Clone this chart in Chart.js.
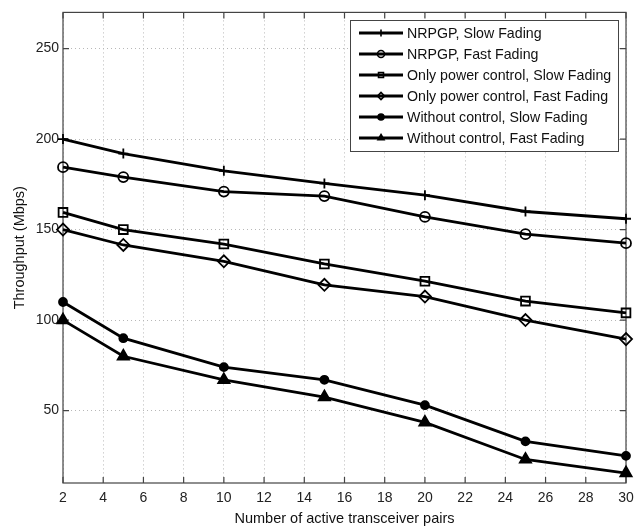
<!DOCTYPE html>
<html lang="en">
<head>
  <meta charset="UTF-8">
  <title>Throughput vs transceiver pairs</title>
  <style>
    body {
      margin: 0;
      padding: 0;
      background: #ffffff;
    }
    canvas {
      display: block;
    }
  </style>
  <script src="https://cdn.jsdelivr.net/npm/chart.js"></script>
</head>
<body>
  <canvas id="throughputChart" width="644" height="529"></canvas>
  <script>
    // number of active transceiver pairs
    const pairs = [2, 5, 10, 15, 20, 25, 30];

    // throughput in Mbps for each scheme
    const nrpgpSlow = [200, 192, 182.5, 175.5, 169, 160, 156];
    const nrpgpFast = [184.5, 179, 171, 168.5, 157, 147.5, 142.5];
    const powerSlow = [159.5, 150, 142, 131, 121.5, 110.5, 104];
    const powerFast = [150, 141.5, 132.5, 119.5, 113, 100, 89.5];
    const noCtrlSlow = [110, 90, 74, 67, 53, 33, 25];
    const noCtrlFast = [100, 80, 67, 57.5, 43.5, 23, 15.5];

    const xTicks = [2, 4, 6, 8, 10, 12, 14, 16, 18, 20, 22, 24, 26, 28, 30];
    const yTicks = [50, 100, 150, 200, 250];

    const FONT = '"Liberation Sans", Arial, sans-serif';

    function series(label, values, style, radius, fill) {
      return {
        label: label,
        data: pairs.map((p, i) => ({ x: p, y: values[i] })),
        borderColor: '#000',
        borderWidth: 2.8,
        pointStyle: style,
        pointRadius: radius,
        pointBorderWidth: 1.8,
        pointBorderColor: '#000',
        pointBackgroundColor: fill,
        legendRadius: style === 'circle' && fill === '#000' ? 3 : 3.5,
        clip: false,
        tension: 0
      };
    }

    const datasets = [
      series('NRPGP, Slow Fading', nrpgpSlow, 'cross', 5, 'transparent'),
      series('NRPGP, Fast Fading', nrpgpFast, 'circle', 5, 'transparent'),
      series('Only power control, Slow Fading', powerSlow, 'rect', 6.2, 'transparent'),
      series('Only power control, Fast Fading', powerFast, 'rectRot', 6, 'transparent'),
      series('Without control, Slow Fading', noCtrlSlow, 'circle', 4, '#000'),
      series('Without control, Fast Fading', noCtrlFast, 'triangle', 6.5, '#000')
    ];

    // box around the plot with inward tick marks on all four sides
    const frame = {
      id: 'frame',
      beforeDatasetsDraw(chart) {
        const { ctx, chartArea: a, scales: { x, y } } = chart;
        const len = 6;
        ctx.save();
        ctx.strokeStyle = '#444';
        ctx.lineWidth = 1.2;
        ctx.strokeRect(a.left, a.top, a.right - a.left, a.bottom - a.top);
        ctx.beginPath();
        xTicks.forEach(v => {
          const px = x.getPixelForValue(v);
          ctx.moveTo(px, a.bottom); ctx.lineTo(px, a.bottom - len);
          ctx.moveTo(px, a.top); ctx.lineTo(px, a.top + len);
        });
        yTicks.forEach(v => {
          const py = y.getPixelForValue(v);
          ctx.moveTo(a.left, py); ctx.lineTo(a.left + len, py);
          ctx.moveTo(a.right, py); ctx.lineTo(a.right - len, py);
        });
        ctx.stroke();
        ctx.restore();
      }
    };

    // legend box in the upper right: line segment + marker + text
    const boxLegend = {
      id: 'boxLegend',
      afterDraw(chart) {
        const ctx = chart.ctx;
        const left = 350, top = 20, width = 268, height = 131;
        const rowH = 21;
        ctx.save();
        ctx.fillStyle = '#fff';
        ctx.fillRect(left, top, width, height);
        ctx.strokeStyle = '#444';
        ctx.lineWidth = 1;
        ctx.strokeRect(left + 0.5, top + 0.5, width, height);
        ctx.font = '14.2px ' + FONT;
        ctx.textBaseline = 'middle';
        chart.data.datasets.forEach((ds, i) => {
          const cy = top + 13 + i * rowH;
          ctx.strokeStyle = '#000';
          ctx.lineWidth = 2.8;
          ctx.beginPath();
          ctx.moveTo(359, cy);
          ctx.lineTo(403, cy);
          ctx.stroke();
          ctx.lineWidth = 1.6;
          ctx.fillStyle = ds.pointBackgroundColor;
          Chart.helpers.drawPoint(ctx, {
            pointStyle: ds.pointStyle,
            radius: ds.legendRadius,
            rotation: 0,
            borderWidth: 1.6
          }, 381, cy);
          ctx.fillStyle = '#111';
          ctx.fillText(ds.label, 407, cy + 1);
        });
        ctx.restore();
      }
    };

    new Chart(document.getElementById('throughputChart'), {
      type: 'line',
      data: { datasets: datasets },
      options: {
        responsive: false,
        animation: false,
        layout: { padding: { left: 0, top: 10, right: 18, bottom: 0 } },
        plugins: {
          legend: { display: false },
          tooltip: { enabled: false }
        },
        scales: {
          x: {
            type: 'linear',
            min: 2,
            max: 30,
            afterFit: s => { s.height = 46; },
            afterBuildTicks: s => { s.ticks = xTicks.map(v => ({ value: v })); },
            ticks: {
              color: '#222',
              font: { family: FONT, size: 14 },
              padding: 7,
              maxRotation: 0
            },
            grid: { color: '#b8b8b8', lineWidth: 1, drawTicks: false },
            border: { display: false, dash: [1, 3] },
            title: {
              display: true,
              text: 'Number of active transceiver pairs',
              color: '#111',
              font: { family: FONT, size: 14.5 },
              padding: { top: 0, bottom: 1 }
            }
          },
          y: {
            min: 10,
            max: 270,
            afterFit: s => { s.width = 63; },
            afterBuildTicks: s => { s.ticks = yTicks.map(v => ({ value: v })); },
            ticks: {
              color: '#222',
              font: { family: FONT, size: 14 },
              padding: 4
            },
            grid: { color: '#b8b8b8', lineWidth: 1, drawTicks: false },
            border: { display: false, dash: [1, 3] },
            title: {
              display: true,
              text: 'Throughput (Mbps)',
              color: '#111',
              font: { family: FONT, size: 14.5 },
              padding: { top: 11, bottom: 0 }
            }
          }
        }
      },
      plugins: [frame, boxLegend]
    });
  </script>
</body>
</html>
